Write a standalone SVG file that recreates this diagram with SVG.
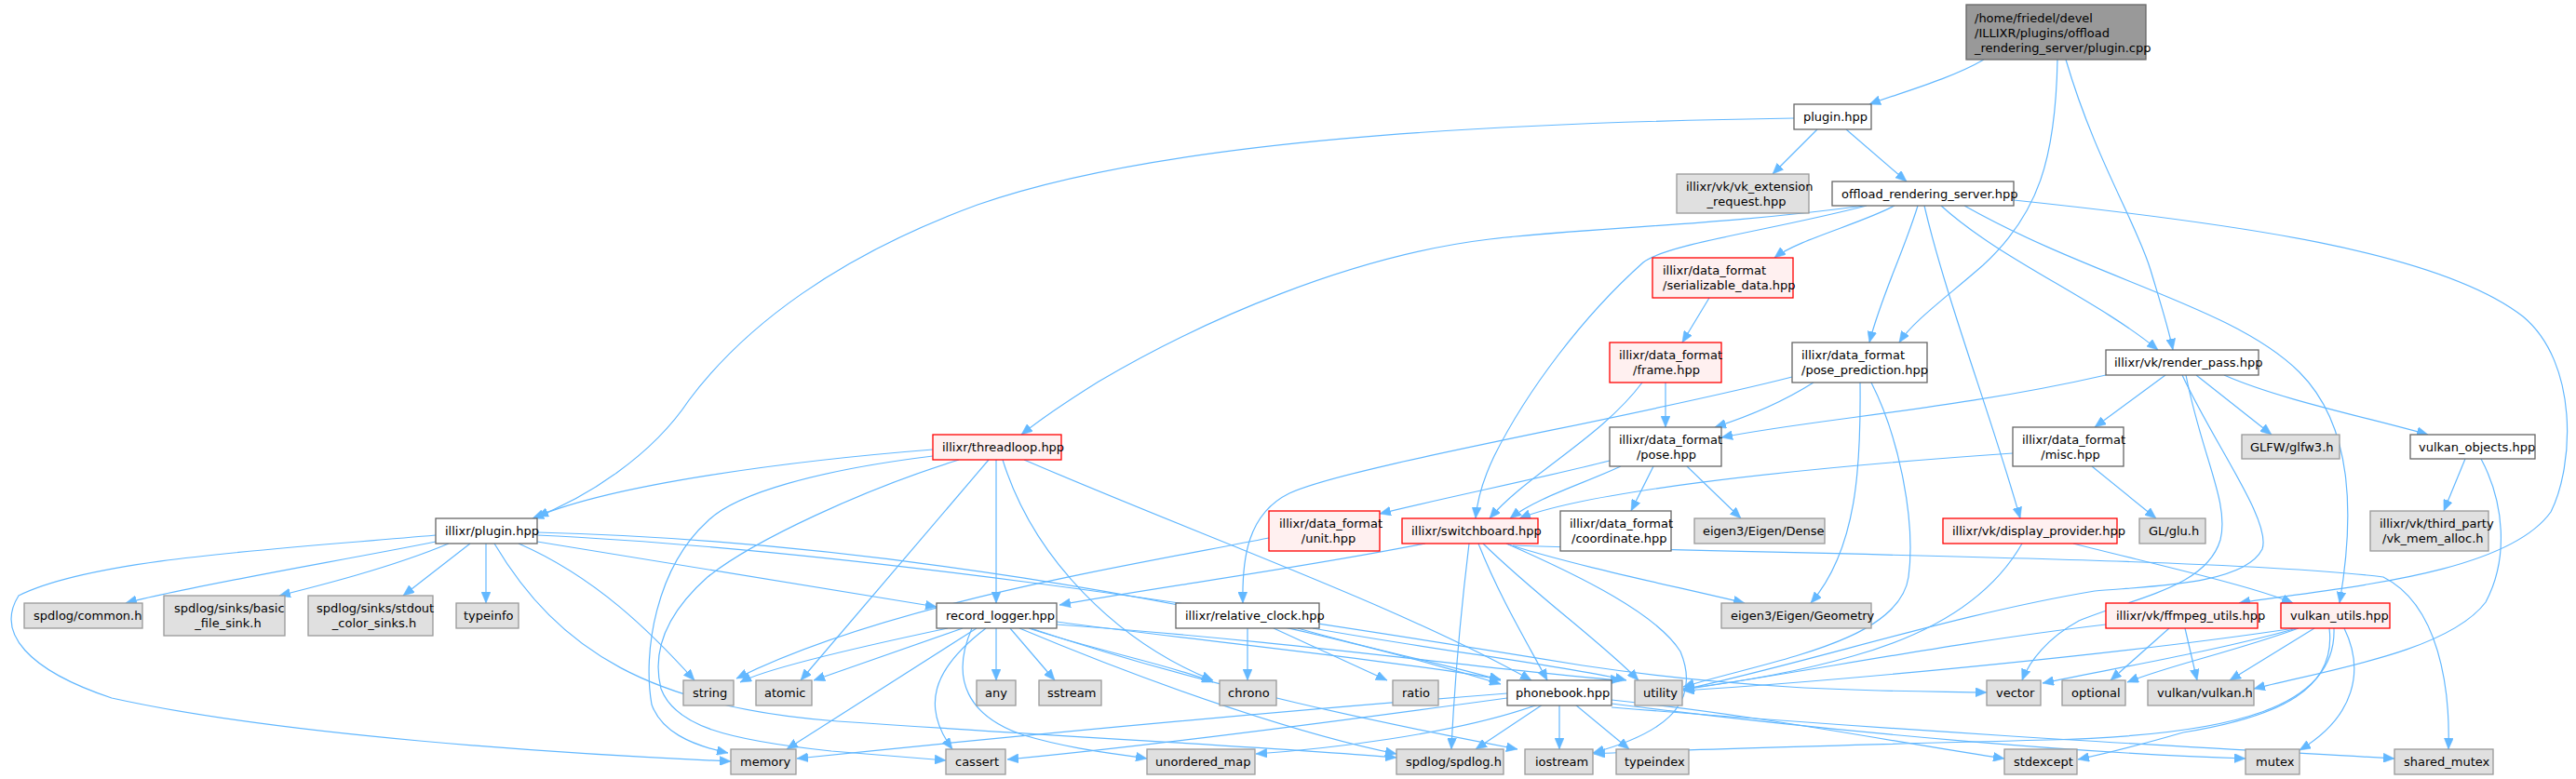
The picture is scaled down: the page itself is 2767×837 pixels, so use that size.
<svg xmlns="http://www.w3.org/2000/svg" width="2767" height="837" viewBox="0 0 2767 837">
<defs>
<style>
.w{fill:#ffffff;stroke:#666666;stroke-width:1.3}
.g{fill:#e0e0e0;stroke:#999999;stroke-width:1.3}
.r{fill:#fff0f0;stroke:#ff0000;stroke-width:1.3}
.root{fill:#999999;stroke:#666666;stroke-width:1.3}
text{font-family:"DejaVu Sans","Liberation Sans",sans-serif;font-size:13px;fill:#000000}
.m{text-anchor:middle}
.e path{fill:none;stroke:#63b8ff;stroke-width:1.2;marker-end:url(#arr)}
</style>
<marker id="arr" viewBox="0 0 12 10" refX="12" refY="5" markerWidth="12" markerHeight="10" markerUnits="userSpaceOnUse" orient="auto"><path d="M0,0 L12,5 L0,10 z" fill="#63b8ff" stroke="#63b8ff" stroke-width="0.5"/></marker>
</defs>
<rect width="2767" height="837" fill="#ffffff"/>
<g id="edges" class="e">
<path d="M2131,64 C2095,85 2040,100 2008,112"/>
<path d="M2210,64 C2208,170 2190,230 2130,285 C2090,320 2055,345 2040,368"/>
<path d="M2219,64 C2250,170 2295,240 2310,290 C2322,330 2330,355 2334,376"/>
<path d="M1927,127 C1600,132 1250,150 1050,220 C900,275 800,350 740,430 C700,490 630,535 572,557"/>
<path d="M1952,139 L1904,187"/>
<path d="M1983,139 L2048,195"/>
<path d="M2002,221 C1850,242 1700,245 1600,257 C1450,275 1290,345 1180,410 C1140,435 1112,455 1097,467"/>
<path d="M2005,221 C1900,248 1790,262 1765,282 C1700,340 1640,420 1605,490 C1593,515 1587,535 1585,557"/>
<path d="M2035,221 C2000,240 1930,258 1906,277"/>
<path d="M2060,221 C2045,270 2020,320 2008,368"/>
<path d="M2085,221 C2150,280 2250,320 2318,376"/>
<path d="M2067,221 C2090,320 2140,450 2170,557"/>
<path d="M2110,221 C2250,300 2400,330 2470,400 C2530,460 2528,560 2513,648"/>
<path d="M2163,215 C2400,240 2620,270 2710,340 C2770,390 2765,500 2740,550 C2690,620 2500,632 2405,648"/>
<path d="M1836,320 L1807,368"/>
<path d="M1789,411 L1789,459"/>
<path d="M1764,411 C1720,470 1640,510 1600,557"/>
<path d="M1948,411 C1910,435 1870,450 1842,459"/>
<path d="M1925,405 C1750,450 1450,500 1385,530 C1340,552 1334,600 1335,648"/>
<path d="M1998,411 C1999,500 1995,590 1945,648"/>
<path d="M2010,411 C2040,470 2058,560 2050,620 C2040,690 1900,710 1808,738"/>
<path d="M2262,403 C2100,440 1950,450 1849,470"/>
<path d="M2326,403 L2250,459"/>
<path d="M2359,403 L2440,467"/>
<path d="M2389,403 C2450,430 2550,450 2608,467"/>
<path d="M2348,403 C2365,490 2395,540 2385,580 C2370,630 2300,640 2233,667 C2200,685 2180,710 2172,731"/>
<path d="M2344,403 C2380,480 2440,560 2430,590 C2410,630 2300,630 2250,635 C2100,660 1950,710 1808,741"/>
<path d="M2162,487 C1900,505 1700,530 1632,557"/>
<path d="M2247,501 L2316,557"/>
<path d="M2648,493 L2625,549"/>
<path d="M2665,493 C2690,540 2695,600 2670,647 C2630,700 2500,720 2421,740"/>
<path d="M1729,495 C1650,515 1550,535 1482,552"/>
<path d="M1741,501 C1700,520 1650,535 1622,557"/>
<path d="M1776,501 L1752,549"/>
<path d="M1812,501 L1870,557"/>
<path d="M1002,483 C850,495 660,520 577,555"/>
<path d="M1002,490 C880,505 790,530 760,560 C705,610 690,700 700,757 C710,785 740,800 782,809"/>
<path d="M1030,494 C930,525 810,580 760,620 C715,660 700,700 710,740 C725,780 780,795 893,807 C950,812 990,815 1016,817"/>
<path d="M1062,494 L860,731"/>
<path d="M1070,494 L1070,648"/>
<path d="M1077,494 C1110,600 1200,690 1303,731"/>
<path d="M1100,494 C1300,580 1500,650 1645,731"/>
<path d="M468,575 C300,590 100,600 20,640 C-5,680 30,720 120,750 C300,790 600,810 785,818"/>
<path d="M468,582 C380,600 200,630 135,648"/>
<path d="M482,584 C420,610 340,630 300,640"/>
<path d="M505,584 L433,640"/>
<path d="M522,584 L522,648"/>
<path d="M557,584 C640,620 700,680 746,731"/>
<path d="M531,584 C600,700 700,760 900,775 C1200,795 1400,805 1500,814"/>
<path d="M577,582 C750,610 900,635 1006,652"/>
<path d="M577,572 C900,580 1300,640 1612,735"/>
<path d="M577,575 C900,590 1300,650 1700,715 C1900,745 2050,742 2134,744"/>
<path d="M1018,675 C900,700 820,720 795,733"/>
<path d="M1034,675 L874,731"/>
<path d="M1049,675 L845,805"/>
<path d="M1059,675 C1000,720 990,760 1023,805"/>
<path d="M1070,675 L1070,731"/>
<path d="M1085,675 L1133,731"/>
<path d="M1105,675 C1180,700 1260,715 1303,733"/>
<path d="M1044,675 C1020,730 1040,770 1100,790 C1150,805 1200,810 1232,815"/>
<path d="M1095,675 C1250,740 1400,790 1500,810"/>
<path d="M1107,675 C1300,740 1500,780 1630,805"/>
<path d="M1135,668 C1300,690 1500,710 1612,730"/>
<path d="M1135,671 C1400,690 1600,720 1742,731"/>
<path d="M1340,675 L1340,731"/>
<path d="M1368,675 L1490,731"/>
<path d="M1394,675 C1480,700 1560,715 1612,731"/>
<path d="M1410,675 C1550,700 1680,715 1747,731"/>
<path d="M1619,745 C1300,770 1000,800 856,815"/>
<path d="M1619,750 C1400,780 1200,805 1082,816"/>
<path d="M1652,757 C1560,790 1420,805 1349,810"/>
<path d="M1657,757 L1585,805"/>
<path d="M1675,757 L1675,805"/>
<path d="M1692,757 L1750,805"/>
<path d="M1731,752 C1900,770 2050,800 2153,815"/>
<path d="M1731,756 C2000,790 2250,810 2412,815"/>
<path d="M1731,760 C2100,790 2400,805 2572,815"/>
<path d="M1531,584 C1400,610 1250,630 1138,650"/>
<path d="M1578,584 C1570,650 1562,740 1559,805"/>
<path d="M1588,584 C1610,640 1640,690 1662,731"/>
<path d="M1593,584 C1650,640 1720,690 1760,731"/>
<path d="M1618,584 C1700,620 1780,660 1805,700 C1830,760 1780,790 1711,809"/>
<path d="M1620,585 C1700,610 1800,630 1874,648"/>
<path d="M1625,586 C1900,595 2400,600 2560,620 C2620,650 2632,740 2630,805"/>
<path d="M1363,578 C1200,610 950,650 791,729"/>
<path d="M2227,584 C2330,610 2420,630 2463,648"/>
<path d="M2172,584 C2140,640 2080,680 1990,705 C1920,725 1850,735 1808,740"/>
<path d="M2330,675 L2267,731"/>
<path d="M2347,675 L2360,731"/>
<path d="M2262,671 C2100,690 1950,720 1808,741"/>
<path d="M2486,675 L2395,731"/>
<path d="M2469,675 C2400,700 2330,715 2285,733"/>
<path d="M2467,675 C2380,700 2260,720 2194,734"/>
<path d="M2465,675 C2300,700 2000,730 1808,742"/>
<path d="M2502,675 C2510,740 2450,770 2345,787 C2300,800 2260,810 2232,816"/>
<path d="M2507,675 C2510,760 2400,790 2200,795 C2000,800 1800,805 1712,810"/>
<path d="M2518,675 C2540,720 2530,770 2470,806"/>
</g>
<g id="node-root"><rect class="root" x="2112" y="5" width="193" height="59"/><text x="2121" y="23.5">/home/friedel/devel</text><text x="2121" y="39.5">/ILLIXR/plugins/offload</text><text x="2121" y="55.5">_rendering_server/plugin.cpp</text></g>
<g id="node-plugin-hpp"><rect class="w" x="1927" y="112" width="83" height="27"/><text x="1937" y="130">plugin.hpp</text></g>
<g id="node-vk-ext"><rect class="g" x="1801" y="187" width="142" height="42"/><text x="1811" y="204.5">illixr/vk/vk_extension</text><text class="m" x="1876" y="220.5">_request.hpp</text></g>
<g id="node-ors"><rect class="w" x="1968" y="195" width="195" height="26"/><text x="1978" y="213">offload_rendering_server.hpp</text></g>
<g id="node-serializable"><rect class="r" x="1775" y="277" width="151" height="43"/><text x="1786" y="294.5">illixr/data_format</text><text x="1786" y="310.5">/serializable_data.hpp</text></g>
<g id="node-frame"><rect class="r" x="1729" y="368" width="120" height="43"/><text x="1739" y="385.5">illixr/data_format</text><text class="m" x="1790" y="401.5">/frame.hpp</text></g>
<g id="node-pose-prediction"><rect class="w" x="1925" y="368" width="145" height="43"/><text x="1935" y="385.5">illixr/data_format</text><text x="1935" y="401.5">/pose_prediction.hpp</text></g>
<g id="node-render-pass"><rect class="w" x="2262" y="376" width="164" height="27"/><text x="2271" y="394">illixr/vk/render_pass.hpp</text></g>
<g id="node-threadloop"><rect class="r" x="1002" y="467" width="138" height="27"/><text x="1012" y="485">illixr/threadloop.hpp</text></g>
<g id="node-pose"><rect class="w" x="1729" y="459" width="120" height="42"/><text x="1739" y="476.5">illixr/data_format</text><text class="m" x="1790" y="492.5">/pose.hpp</text></g>
<g id="node-misc"><rect class="w" x="2162" y="459" width="119" height="42"/><text x="2172" y="476.5">illixr/data_format</text><text class="m" x="2224" y="492.5">/misc.hpp</text></g>
<g id="node-glfw"><rect class="g" x="2408" y="467" width="105" height="26"/><text x="2417" y="485">GLFW/glfw3.h</text></g>
<g id="node-vulkan-objects"><rect class="w" x="2589" y="467" width="134" height="26"/><text x="2598" y="485">vulkan_objects.hpp</text></g>
<g id="node-illixr-plugin"><rect class="w" x="468" y="557" width="109" height="27"/><text x="478" y="575">illixr/plugin.hpp</text></g>
<g id="node-unit"><rect class="r" x="1363" y="549" width="119" height="43"/><text x="1374" y="566.5">illixr/data_format</text><text class="m" x="1427" y="582.5">/unit.hpp</text></g>
<g id="node-switchboard"><rect class="r" x="1506" y="557" width="146" height="27"/><text x="1516" y="575">illixr/switchboard.hpp</text></g>
<g id="node-coordinate"><rect class="w" x="1676" y="549" width="119" height="43"/><text x="1686" y="566.5">illixr/data_format</text><text x="1688" y="582.5">/coordinate.hpp</text></g>
<g id="node-dense"><rect class="g" x="1820" y="557" width="140" height="27"/><text x="1829" y="575">eigen3/Eigen/Dense</text></g>
<g id="node-display-provider"><rect class="r" x="2087" y="557" width="187" height="27"/><text x="2097" y="575">illixr/vk/display_provider.hpp</text></g>
<g id="node-glu"><rect class="g" x="2298" y="557" width="71" height="27"/><text x="2308" y="575">GL/glu.h</text></g>
<g id="node-vk-mem-alloc"><rect class="g" x="2546" y="549" width="127" height="43"/><text x="2556" y="566.5">illixr/vk/third_party</text><text x="2559" y="582.5">/vk_mem_alloc.h</text></g>
<g id="node-spdlog-common"><rect class="g" x="26" y="648" width="127" height="27"/><text x="36" y="666">spdlog/common.h</text></g>
<g id="node-basic-file-sink"><rect class="g" x="176" y="640" width="130" height="43"/><text x="187" y="657.5">spdlog/sinks/basic</text><text class="m" x="245" y="673.5">_file_sink.h</text></g>
<g id="node-stdout-color"><rect class="g" x="331" y="640" width="134" height="43"/><text x="340" y="657.5">spdlog/sinks/stdout</text><text class="m" x="402" y="673.5">_color_sinks.h</text></g>
<g id="node-typeinfo"><rect class="g" x="490" y="648" width="67" height="27"/><text x="498" y="666">typeinfo</text></g>
<g id="node-record-logger"><rect class="w" x="1006" y="648" width="129" height="27"/><text x="1016" y="666">record_logger.hpp</text></g>
<g id="node-relative-clock"><rect class="w" x="1263" y="648" width="154" height="27"/><text x="1273" y="666">illixr/relative_clock.hpp</text></g>
<g id="node-geometry"><rect class="g" x="1849" y="648" width="161" height="27"/><text x="1859" y="666">eigen3/Eigen/Geometry</text></g>
<g id="node-ffmpeg-utils"><rect class="r" x="2262" y="648" width="163" height="27"/><text x="2273" y="666">illixr/vk/ffmpeg_utils.hpp</text></g>
<g id="node-vulkan-utils"><rect class="r" x="2450" y="648" width="117" height="27"/><text x="2460" y="666">vulkan_utils.hpp</text></g>
<g id="node-string"><rect class="g" x="734" y="731" width="54" height="27"/><text x="744" y="749">string</text></g>
<g id="node-atomic"><rect class="g" x="812" y="731" width="60" height="27"/><text x="821" y="749">atomic</text></g>
<g id="node-any"><rect class="g" x="1049" y="731" width="42" height="27"/><text x="1058" y="749">any</text></g>
<g id="node-sstream"><rect class="g" x="1116" y="731" width="67" height="27"/><text x="1125" y="749">sstream</text></g>
<g id="node-chrono"><rect class="g" x="1310" y="731" width="61" height="27"/><text x="1319" y="749">chrono</text></g>
<g id="node-ratio"><rect class="g" x="1496" y="731" width="49" height="27"/><text x="1506" y="749">ratio</text></g>
<g id="node-phonebook"><rect class="w" x="1619" y="731" width="112" height="27"/><text x="1628" y="749">phonebook.hpp</text></g>
<g id="node-utility"><rect class="g" x="1756" y="731" width="51" height="27"/><text x="1765" y="749">utility</text></g>
<g id="node-vector"><rect class="g" x="2134" y="731" width="58" height="27"/><text x="2144" y="749">vector</text></g>
<g id="node-optional"><rect class="g" x="2215" y="731" width="68" height="27"/><text x="2225" y="749">optional</text></g>
<g id="node-vulkan-h"><rect class="g" x="2307" y="731" width="114" height="27"/><text x="2317" y="749">vulkan/vulkan.h</text></g>
<g id="node-memory"><rect class="g" x="785" y="805" width="70" height="27"/><text x="795" y="823">memory</text></g>
<g id="node-cassert"><rect class="g" x="1016" y="805" width="64" height="27"/><text x="1026" y="823">cassert</text></g>
<g id="node-unordered-map"><rect class="g" x="1232" y="805" width="116" height="27"/><text x="1241" y="823">unordered_map</text></g>
<g id="node-spdlog"><rect class="g" x="1500" y="805" width="115" height="27"/><text x="1510" y="823">spdlog/spdlog.h</text></g>
<g id="node-iostream"><rect class="g" x="1638" y="805" width="73" height="27"/><text x="1649" y="823">iostream</text></g>
<g id="node-typeindex"><rect class="g" x="1736" y="805" width="78" height="27"/><text x="1745" y="823">typeindex</text></g>
<g id="node-stdexcept"><rect class="g" x="2153" y="805" width="78" height="27"/><text x="2163" y="823">stdexcept</text></g>
<g id="node-mutex"><rect class="g" x="2412" y="805" width="58" height="27"/><text x="2423" y="823">mutex</text></g>
<g id="node-shared-mutex"><rect class="g" x="2572" y="805" width="106" height="27"/><text x="2582" y="823">shared_mutex</text></g>
</svg>
